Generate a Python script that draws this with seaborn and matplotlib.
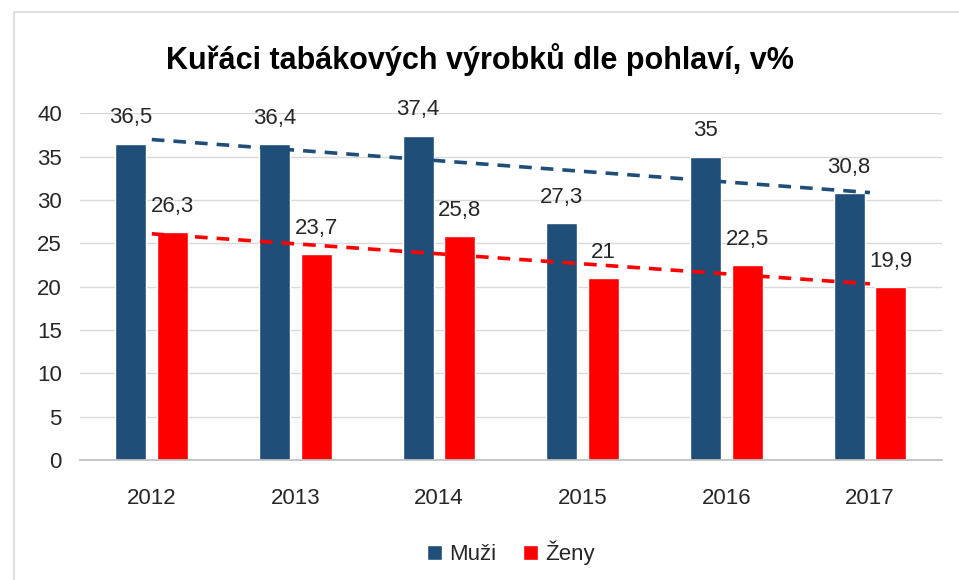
import numpy as np
import pandas as pd
import matplotlib
matplotlib.use("Agg")
import matplotlib.pyplot as plt
from matplotlib.patches import Rectangle
import seaborn as sns

years = ["2012", "2013", "2014", "2015", "2016", "2017"]
muzi = [36.5, 36.4, 37.4, 27.3, 35.0, 30.8]
zeny = [26.3, 23.7, 25.8, 21.0, 22.5, 19.9]
series_names = ["Muži", "Ženy"]
colors = {"Muži": "#1F4E79", "Ženy": "#FF0000"}
title = "Kuřáci tabákových výrobků dle pohlaví, v%"

df = pd.DataFrame({
    "rok": years * 2,
    "pohlavi": [series_names[0]] * len(years) + [series_names[1]] * len(years),
    "hodnota": muzi + zeny,
})

sns.set_theme(style="white")
plt.rcParams["font.family"] = ["Liberation Sans", "DejaVu Sans"]

fig = plt.figure(figsize=(9.59, 5.80), dpi=100)
ax = fig.add_axes([0.0834, 0.2069, 0.8986, 0.598])

sns.barplot(data=df, x="rok", y="hodnota", hue="pohlavi", palette=colors,
            width=0.58, gap=0.255, saturation=1, ax=ax, legend=True)

# data labels
for cont in ax.containers:
    ax.bar_label(cont, labels=[f"{v:g}".replace(".", ",") for v in cont.datavalues],
                 padding=11, fontsize=16, color="#262626")

# linear trend lines (Excel style)
x = np.arange(len(years))
for name, vals in zip(series_names, [muzi, zeny]):
    k, q = np.polyfit(x, vals, 1)
    ax.plot(x, k * x + q, ls=(0, (3.5, 2.5)), lw=2.6, color=colors[name], zorder=3)

ax.set_ylim(0, 40)
ax.set_xlim(-0.5, len(years) - 0.5)
ax.set_yticks(np.arange(0, 41, 5))
ax.yaxis.grid(True, color="#D9D9D9", lw=1)
ax.set_axisbelow(True)
ax.set_xlabel("")
ax.set_ylabel("")
for s in ["top", "right", "left"]:
    ax.spines[s].set_visible(False)
ax.spines["bottom"].set_color("#BFBFBF")
ax.tick_params(axis="x", length=0, pad=20, labelsize=16, labelcolor="#262626")
ax.tick_params(axis="y", length=0, pad=13, labelsize=16, labelcolor="#262626")

leg = ax.legend(loc="upper center", bbox_to_anchor=(0.5, -0.175), ncol=2, frameon=False,
                fontsize=16, handlelength=0.7, handleheight=0.7, handletextpad=0.3,
                columnspacing=1.2)
for t in leg.get_texts():
    t.set_color("#262626")

fig.text(0.5, 0.897, title, ha="center", va="center", fontsize=22, fontweight="bold",
         color="black")

# chart area border
fig.patches.append(Rectangle((14 / 959, -0.1), 1.2, 0.1 + (580 - 12) / 580,
                             transform=fig.transFigure, fill=False, ec="#D9D9D9", lw=1.2))

fig.savefig("out.png", dpi=100)
